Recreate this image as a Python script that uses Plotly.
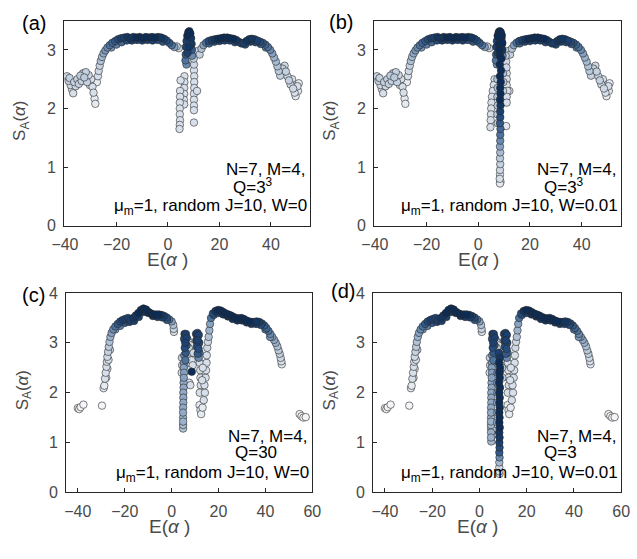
import numpy as np
import plotly.graph_objects as go

# ---------------- Q = 3^3 : outer branches (shared by panels a, b) ----------------
E_left27 = [-39.2, -38.6, -38.2, -37.8, -37.3, -36.8, -36.4, -35.8, -35.2, -34.6, -34.0, -33.5,
            -33.0, -32.5, -31.9, -31.4, -30.8, -30.3, -29.8, -29.3, -28.9, -28.5, -28.2]
S_left27 = [2.55, 2.47, 2.52, 2.40, 2.33, 2.26, 2.45, 2.38, 2.50, 2.42, 2.56, 2.47,
            2.60, 2.53, 2.62, 2.45, 2.57, 2.40, 2.50, 2.37, 2.27, 2.17, 2.08]
D_left27 = [.15, .2, .2, .15, .1, .1, .2, .15, .2, .2, .25, .2,
            .2, .25, .2, .2, .15, .1, .1, .1, .1, .05, .05]

E_upL27 = [-27.6, -27.2, -26.9, -26.5, -26.1, -25.6, -25.0, -24.3, -23.5, -22.6,
           -21.6, -20.5, -19.4, -18.2, -17.0, -15.8, -14.6, -13.4, -12.2, -11.0,
           -9.8, -8.6, -7.4, -6.2, -5.0, -3.8, -2.6, -1.5, -0.5, 0.5,
           1.5, 2.5, 3.4, 4.2]
S_upL27 = [2.45, 2.55, 2.64, 2.73, 2.81, 2.88, 2.94, 2.99, 3.04, 3.08,
           3.12, 3.15, 3.18, 3.20, 3.21, 3.22, 3.20, 3.22, 3.21, 3.22,
           3.20, 3.22, 3.21, 3.22, 3.21, 3.22, 3.21, 3.19, 3.16, 3.12,
           3.08, 3.05, 3.06, 3.03]
D_upL27 = [.05, .1, .15, .2, .3, .35, .45, .55, .6, .7,
           .75, .8, .85, .9, .9, .95, .95, .95, 1, 1,
           1, 1, 1, 1, 1, .95, .95, .9, .85, .8,
           .7, .5, .2, .1]

E_bandL27 = [-22.0, -20.0, -18.0, -16.0, -14.0, -12.0, -10.0, -8.0, -6.0, -4.0, -2.0]
S_bandL27 = [3.04, 3.09, 3.13, 3.16, 3.16, 3.17, 3.16, 3.17, 3.16, 3.17, 3.14]
D_bandL27 = [.55, .65, .75, .85, .9, .9, .9, .9, .9, .85, .8]

E_upR27 = [11.5, 12.3, 13.0, 13.8, 14.8, 15.8, 17.0, 18.2, 19.4, 20.6,
           21.8, 23.0, 24.2, 25.4, 26.5, 27.5, 28.5, 29.5, 30.5, 31.5,
           32.5, 33.6, 34.7, 35.8, 36.8, 37.8, 38.8, 39.7, 40.5, 41.2,
           41.9, 42.5, 43.0, 43.6, 44.5, 45.3, 45.8, 46.4, 47.0, 47.6,
           48.2, 48.6, 49.2, 49.6, 50.3, 50.8, 50.5]
S_upR27 = [2.98, 2.92, 3.02, 3.08, 3.12, 3.15, 3.17, 3.18, 3.19, 3.20,
           3.21, 3.21, 3.20, 3.19, 3.17, 3.14, 3.11, 3.12, 3.15, 3.18,
           3.19, 3.18, 3.16, 3.14, 3.12, 3.09, 3.05, 3.00, 2.94, 2.87,
           2.80, 2.72, 2.64, 2.56, 2.68, 2.73, 2.63, 2.55, 2.48, 2.41,
           2.50, 2.34, 2.27, 2.21, 2.38, 2.43, 2.30]
D_upR27 = [.15, .2, .3, .5, .7, .85, .9, .95, 1, 1,
           1, 1, 1, 1, .95, .9, .9, .9, .95, .95,
           .95, .9, .9, .85, .8, .75, .7, .6, .5, .4,
           .35, .3, .25, .2, .2, .15, .2, .15, .2, .15,
           .1, .15, .1, .05, .1, .05, .05]

E_bandR27 = [16.0, 18.0, 20.0, 22.0, 24.0, 26.0, 30.0, 32.0, 34.0, 36.0, 38.0]
S_bandR27 = [3.11, 3.14, 3.15, 3.16, 3.16, 3.13, 3.09, 3.14, 3.13, 3.10, 3.04]
D_bandR27 = [.75, .85, .9, .9, .9, .85, .85, .9, .85, .8, .65]

# central spike top (shared a, b)
E_spike27 = [7.2, 6.8, 6.9, 7.0, 7.2, 7.5, 7.9, 8.3, 8.7, 9.0, 9.2, 9.3, 9.4, 7.6, 8.2, 8.6]
S_spike27 = [2.75, 2.82, 2.92, 3.05, 3.15, 3.24, 3.30, 3.32, 3.28, 3.20, 3.10, 3.00, 2.90, 2.95, 3.05, 3.12]
D_spike27 = [.6, .7, .8, .9, .9, 1, 1, 1, 1, .95, .9, .8, .6, .9, .95, .9]

# panel (a) arms, W = 0
E_arm_a = [6.4, 6.4, 6.3, 6.3, 6.2, 6.3, 4.9, 4.7, 4.7, 4.6, 4.6, 4.6, 4.7, 4.6, 4.5,
           10.0, 10.1, 10.1, 10.2, 10.2, 10.2, 10.1, 10.1, 10.1, 10.1, 10.1, 11.3]
S_arm_a = [2.55, 2.45, 2.35, 2.25, 2.15, 2.07, 2.48, 2.30, 2.20, 2.10, 2.00, 1.90, 1.80, 1.72, 1.65,
           2.85, 2.75, 2.65, 2.55, 2.45, 2.35, 2.25, 2.15, 2.05, 1.97, 1.76, 2.30]
D_arm_a = [.1, .1, .1, .1, .1, .1, .1, .1, .1, .1, .1, .1, .1, .1, .1,
           .2, .15, .1, .1, .1, .1, .1, .1, .1, .1, .1, .1]

# panel (b) W = 0.01
E_col_b = [8.3, 8.7, 9.1, 7.9, 8.0, 9.3, 8.2, 9.2, 8.4, 8.9,
           8.3, 8.8, 8.4, 8.7, 8.5, 8.6, 8.4, 8.6, 8.5, 8.5,
           8.4, 8.6, 8.5, 8.5, 8.4, 8.5, 8.4, 8.5, 8.4, 8.4,
           8.3, 8.6, 8.4]
S_col_b = [3.30, 3.30, 3.25, 3.22, 3.10, 3.12, 3.00, 3.00, 2.90, 2.85,
           2.75, 2.65, 2.55, 2.45, 2.35, 2.25, 2.15, 2.05, 1.95, 1.85,
           1.75, 1.65, 1.55, 1.45, 1.35, 1.25, 1.15, 1.05, 0.95, 0.87,
           0.80, 0.75, 0.72]
D_col_b = [1, 1, 1, 1, 1, 1, 1, .95, 1, 1,
           1, 1, 1, 1, 1, 1, 1, .95, .9, .85,
           .8, .75, .7, .6, .5, .35, .25, .2, .15, .1,
           .1, .05, .05]
E_side_b = [7.4, 7.5, 7.4, 7.5, 7.4, 7.5, 9.6, 9.7, 9.6]
S_side_b = [2.50, 2.35, 2.20, 2.05, 1.90, 1.75, 2.60, 2.45, 2.30]
D_side_b = [.3, .3, .3, .25, .25, .2, .3, .25, .2]
E_arm_b = [6.3, 6.0, 5.6, 5.3, 5.1, 5.0, 4.9, 4.8, 4.7, 10.6, 10.8, 10.9, 11.0, 11.0, 11.0, 11.3, 12.0, 11.0, 11.0, 10.8]
S_arm_b = [2.50, 2.40, 2.30, 2.20, 2.10, 2.00, 1.90, 1.80, 1.68, 2.90, 2.80, 2.70, 2.60, 2.50, 2.40, 2.30, 2.30, 2.20, 2.10, 1.70]
D_arm_b = [.1, .1, .1, .1, .1, .1, .1, .1, .1, .2, .15, .15, .1, .1, .1, .1, .05, .1, .1, .05]

# ---------------- Q = 30 / Q = 3 : outer branches (shared by panels c, d) ----------------
E_isoL30 = [-40.0, -39.4, -38.8, -37.6, -29.7]
S_isoL30 = [1.69, 1.67, 1.71, 1.76, 1.74]
D_isoL30 = [0, 0, 0, 0, 0]

E_upL30 = [-29.0, -28.7, -28.4, -28.1, -27.8, -27.6, -27.4, -27.1, -26.8, -26.5,
           -26.1, -25.6, -24.9, -24.0, -23.0, -21.9, -20.8, -19.7, -18.6, -17.5,
           -16.4, -15.3, -14.2, -13.1, -12.0, -10.9, -9.8, -8.7, -7.6, -6.5,
           -5.4, -4.3, -3.2, -2.1, -1.0, 0.0, 0.7, 0.9, 1.0]
S_upL30 = [2.09, 2.14, 2.28, 2.40, 2.52, 2.62, 2.72, 2.82, 2.92, 3.02,
           3.12, 3.20, 3.27, 3.33, 3.38, 3.43, 3.46, 3.48, 3.50, 3.45,
           3.50, 3.55, 3.60, 3.66, 3.69, 3.67, 3.62, 3.59, 3.57, 3.57,
           3.57, 3.56, 3.54, 3.51, 3.47, 3.43, 3.36, 3.28, 3.22]
D_upL30 = [.05, .05, .1, .1, .1, .1, .15, .2, .25, .3,
           .4, .5, .6, .7, .8, .85, .9, .9, .9, .9,
           .95, .95, 1, 1, 1, 1, 1, 1, 1, 1,
           1, .95, .9, .85, .7, .5, .3, .2, .1]

E_extraL30 = [-27.9, -27.4, -26.9, -26.3]
S_extraL30 = [2.30, 2.48, 2.66, 2.86]
D_extraL30 = [.05, .05, .1, .15]

E_bandL30 = [-24.0, -22.0, -20.0, -18.0, -16.0, -14.0, -12.0, -10.0, -8.0, -6.0, -4.0, -2.0]
S_bandL30 = [3.27, 3.34, 3.40, 3.42, 3.44, 3.52, 3.62, 3.60, 3.54, 3.52, 3.51, 3.46]
D_bandL30 = [.5, .65, .8, .85, .9, .9, .95, .95, .95, .9, .9, .8]

E_upR30 = [15.8, 16.1, 16.4, 16.8, 17.6, 18.7, 19.8, 20.9, 22.0, 23.1,
           24.2, 25.3, 26.4, 27.5, 28.6, 29.7, 30.8, 31.9, 33.0, 34.1,
           35.2, 36.3, 37.4, 38.5, 39.5, 40.4, 41.3, 42.1, 42.9, 43.7,
           44.4, 45.1, 45.6, 46.1, 46.5, 46.8, 47.0]
S_upR30 = [3.12, 3.25, 3.38, 3.50, 3.59, 3.64, 3.66, 3.65, 3.62, 3.59,
           3.57, 3.55, 3.52, 3.50, 3.49, 3.50, 3.48, 3.45, 3.43, 3.42,
           3.42, 3.43, 3.42, 3.39, 3.35, 3.30, 3.24, 3.18, 3.12, 3.06,
           3.00, 2.93, 2.85, 2.78, 2.70, 2.63, 2.57]
D_upR30 = [.3, .4, .5, .7, .85, .95, 1, 1, 1, 1,
           1, 1, 1, 1, 1, 1, 1, 1, 1, .95,
           .95, .95, .9, .85, .8, .75, .7, .6, .5, .45,
           .4, .3, .25, .2, .15, .1, .05]

E_bandR30 = [18.0, 20.0, 22.0, 24.0, 26.0, 28.0, 30.0, 32.0, 34.0, 36.0, 38.0, 40.0, 42.0]
S_bandR30 = [3.56, 3.60, 3.57, 3.53, 3.48, 3.45, 3.45, 3.41, 3.38, 3.38, 3.36, 3.27, 3.12]
D_bandR30 = [.8, .9, .95, .95, .95, .95, .95, .9, .9, .9, .85, .7, .55]

E_isoR30 = [54.6, 55.4, 56.2, 57.2]
S_isoR30 = [1.57, 1.53, 1.50, 1.51]
D_isoR30 = [0, 0, 0, 0]

# central region (panel c, also present in d)
E_colL30 = [5.5, 6.1, 6.5, 5.3, 5.8, 6.4, 5.6, 6.0, 5.4, 5.9,
            5.3, 5.2, 5.3, 5.2, 5.1, 5.1, 5.0, 5.0, 5.0, 4.9,
            4.9, 4.9, 4.9, 4.9, 4.9, 4.4, 4.5, 4.3]
S_colL30 = [3.18, 3.18, 3.10, 3.08, 3.00, 2.95, 2.90, 2.80, 2.75, 2.65,
            2.60, 2.50, 2.40, 2.30, 2.20, 2.10, 2.00, 1.90, 1.80, 1.70,
            1.60, 1.50, 1.42, 1.35, 1.28, 2.70, 2.55, 2.40]
D_colL30 = [.9, .9, .9, .85, .9, .8, .85, .8, .6, .7,
            .5, .5, .5, .5, .45, .45, .45, .45, .45, .45,
            .45, .4, .4, .35, .3, .2, .2, .1]
E_colR30 = [10.4, 11.0, 11.6, 10.5, 11.2, 11.8, 10.8, 11.5, 11.9, 11.1, 11.6]
S_colR30 = [3.18, 3.20, 3.16, 3.05, 3.05, 3.00, 2.92, 2.88, 2.80, 2.78, 2.70]
D_colR30 = [.9, .9, .9, .9, .9, .85, .85, .85, .7, .8, .6]
E_mid30 = [7.0, 7.3, 7.6, 8.0, 8.3, 7.8, 8.5, 7.5, 8.0, 9.0, 9.3, 7.2, 8.6]
S_mid30 = [3.05, 2.90, 2.75, 2.95, 2.80, 2.60, 2.65, 2.20, 2.15, 2.55, 2.80, 2.45, 2.42]
D_mid30 = [.1, .15, .1, .1, .1, .1, .1, .1, .1, .1, .15, .1, 1]
E_rlight30 = [12.0, 12.2, 12.3, 12.4, 12.0, 11.9, 12.3, 12.6, 13.2, 13.7,
              14.2, 14.0, 14.5, 14.7, 14.9, 15.0, 15.2, 15.5, 13.0, 13.3]
S_rlight30 = [2.60, 2.45, 2.30, 2.15, 2.00, 1.75, 1.65, 1.57, 1.70, 1.85,
              2.00, 2.15, 2.30, 2.45, 2.60, 2.75, 2.90, 3.02, 2.25, 2.50]
D_rlight30 = [.1, .1, .1, .1, .1, .05, .05, .05, .05, .1,
              .1, .1, .1, .1, .1, .1, .15, .15, .1, .1]

# panel (d) extra, W = 0.01
E_col_d = [8.2, 8.6, 8.3, 8.7, 8.4, 8.6, 8.3, 8.7, 8.4, 8.6,
           8.4, 8.6, 8.4, 8.5, 8.4, 8.6, 8.4, 8.5, 8.4, 8.5,
           8.4, 8.5, 8.4, 8.4, 8.4, 8.5]
S_col_d = [2.80, 2.70, 2.60, 2.50, 2.40, 2.30, 2.20, 2.10, 2.00, 1.90,
           1.80, 1.70, 1.60, 1.50, 1.40, 1.30, 1.20, 1.10, 1.00, 0.90,
           0.80, 0.70, 0.60, 0.50, 0.42, 0.37]
D_col_d = [.9, .95, 1, 1, 1, 1, 1, 1, 1, 1,
           1, 1, 1, 1, 1, 1, .95, .95, .9, .85,
           .8, .6, .35, .15, .1, .05]
E_side_d = [7.6, 7.5, 7.6, 7.5, 7.6, 7.5, 4.9, 4.9, 5.0, 5.6, 5.6, 9.6, 9.7]
S_side_d = [2.40, 2.20, 2.00, 1.80, 1.60, 1.40, 1.20, 1.10, 1.02, 1.25, 1.15, 2.50, 2.30]
D_side_d = [.6, .55, .55, .5, .5, .45, .4, .4, .35, .3, .3, .2, .2]

# ---------------- text ----------------
panel_labels = ["(a)", "(b)", "(c)", "(d)"]
q_labels = ["Q=3<sup>3</sup>", "Q=3<sup>3</sup>", "Q=30", "Q=3"]
w_labels = ["μ<sub>m</sub>=1, random J=10, W=0", "μ<sub>m</sub>=1, random J=10, W=0.01",
            "μ<sub>m</sub>=1, random J=10, W=0", "μ<sub>m</sub>=1, random J=10, W=0.01"]
xticks_top = [-40, -20, 0, 20, 40]
xticks_bot = [-40, -20, 0, 20, 40, 60]
yticks_top = [0, 1, 2, 3]
yticks_bot = [0, 1, 2, 3, 4]

segments_27 = [(E_left27, S_left27, D_left27), (E_upL27, S_upL27, D_upL27),
               (E_bandL27, S_bandL27, D_bandL27), (E_upR27, S_upR27, D_upR27),
               (E_bandR27, S_bandR27, D_bandR27), (E_spike27, S_spike27, D_spike27)]
segments_30 = [(E_isoL30, S_isoL30, D_isoL30), (E_upL30, S_upL30, D_upL30),
               (E_extraL30, S_extraL30, D_extraL30), (E_bandL30, S_bandL30, D_bandL30),
               (E_upR30, S_upR30, D_upR30), (E_bandR30, S_bandR30, D_bandR30),
               (E_isoR30, S_isoR30, D_isoR30), (E_colL30, S_colL30, D_colL30),
               (E_colR30, S_colR30, D_colR30), (E_mid30, S_mid30, D_mid30),
               (E_rlight30, S_rlight30, D_rlight30)]

panels = [
    segments_27 + [(E_arm_a, S_arm_a, D_arm_a)],
    segments_27 + [(E_arm_b, S_arm_b, D_arm_b), (E_side_b, S_side_b, D_side_b), (E_col_b, S_col_b, D_col_b)],
    segments_30,
    segments_30 + [(E_side_d, S_side_d, D_side_d), (E_col_d, S_col_d, D_col_d)],
]

W, H = 637, 559
# plot-area pixel boxes (left, right, top, bottom)
boxes = [(53, 308, 13, 224.5), (374, 630, 13, 224.5), (55, 310, 294, 499.5), (373, 630, 294, 499.5)]
xranges = [[-40.3, 55.3], [-40.3, 55.3], [-45, 60], [-45, 60]]
yranges = [[0, 3.5], [0, 3.5], [0, 4], [0, 4]]
label_centers = [(22, 15), (340, 14), (21, 296), (342, 292)]

cscale = [[0.0, '#f3f5f8'], [0.1, '#d7e0ea'], [0.3, '#b1c2d6'], [0.5, '#86a1c1'],
          [0.7, '#4e739f'], [0.85, '#244c7c'], [1.0, '#0b2c57']]

FONT = "Liberation Sans, Arial, Helvetica, sans-serif"
fig = go.Figure()
layout = dict(width=W, height=H, margin=dict(l=0, r=0, t=0, b=0),
              paper_bgcolor='white', plot_bgcolor='white', showlegend=False,
              font=dict(family=FONT, color='#000'))
annotations = []

def px(xp):
    return xp / W

def py(yp):
    return 1 - yp / H

for i, segs in enumerate(panels):
    E = np.concatenate([np.asarray(s[0], float) for s in segs])
    S = np.concatenate([np.asarray(s[1], float) for s in segs])
    D = np.concatenate([np.asarray(s[2], float) for s in segs])
    order = np.argsort(D, kind='stable')
    k = '' if i == 0 else str(i + 1)
    fig.add_trace(go.Scatter(
        x=E[order], y=S[order], mode='markers', xaxis='x' + k, yaxis='y' + k,
        marker=dict(size=7.5, color=D[order], colorscale=cscale, cmin=0, cmax=1,
                    line=dict(color='#2a2a2a', width=0.6)),
        hoverinfo='skip'))
    l, r, t, b = boxes[i]
    top = i < 2
    axcommon = dict(showgrid=False, zeroline=False, showline=True, linecolor='#262626',
                    linewidth=1, mirror=True, ticks='inside', ticklen=4, tickwidth=1,
                    tickcolor='#262626', tickfont=dict(size=16, color='#4a4a4a', family=FONT))
    layout['xaxis' + k] = dict(axcommon, domain=[px(l), px(r)], range=xranges[i],
                               tickvals=xticks_top if top else xticks_bot,
                               anchor='y' + k, ticklabelstandoff=4)
    layout['yaxis' + k] = dict(axcommon, domain=[py(b), py(t)], range=yranges[i],
                               tickvals=yticks_top if top else yticks_bot,
                               anchor='x' + k, ticklabelstandoff=4)
    cx = (l + r) / 2
    # axis titles
    annotations.append(dict(text="E(<i>α</i> )", x=px(cx - 20), y=py(b + 35), xref='paper', yref='paper',
                            showarrow=False, font=dict(size=19, color='#4a4a4a'),
                            xanchor='center', yanchor='middle'))
    annotations.append(dict(text="S<sub>A</sub>(<i>α</i>)", x=px(l - 44), y=py((t + b) / 2 - 2),
                            xref='paper', yref='paper', textangle=-90, showarrow=False,
                            font=dict(size=17, color='#4a4a4a'), xanchor='center', yanchor='middle'))
    # panel label
    lx, ly = label_centers[i]
    annotations.append(dict(text=panel_labels[i], x=px(lx), y=py(ly), xref='paper', yref='paper',
                            showarrow=False, font=dict(size=20, color='#000'),
                            xanchor='center', yanchor='middle'))
    # inner text
    annotations.append(dict(text="N=7, M=4,", x=px(r - 3), y=py(b - 58), xref='paper', yref='paper',
                            showarrow=False, font=dict(size=17, color='#000'),
                            xanchor='right', yanchor='middle'))
    annotations.append(dict(text=q_labels[i], x=px(r - 82), y=py(b - 41), xref='paper', yref='paper',
                            showarrow=False, font=dict(size=17, color='#000'),
                            xanchor='left', yanchor='middle'))
    annotations.append(dict(text=w_labels[i], x=px(r - 1), y=py(b - 19), xref='paper', yref='paper',
                            showarrow=False, font=dict(size=17, color='#000'),
                            xanchor='right', yanchor='middle'))

layout['annotations'] = annotations
fig.update_layout(**layout)
fig.write_html("out.html", config={'displayModeBar': False},
               post_script="document.body.style.margin='0';document.body.style.overflow='hidden';")
